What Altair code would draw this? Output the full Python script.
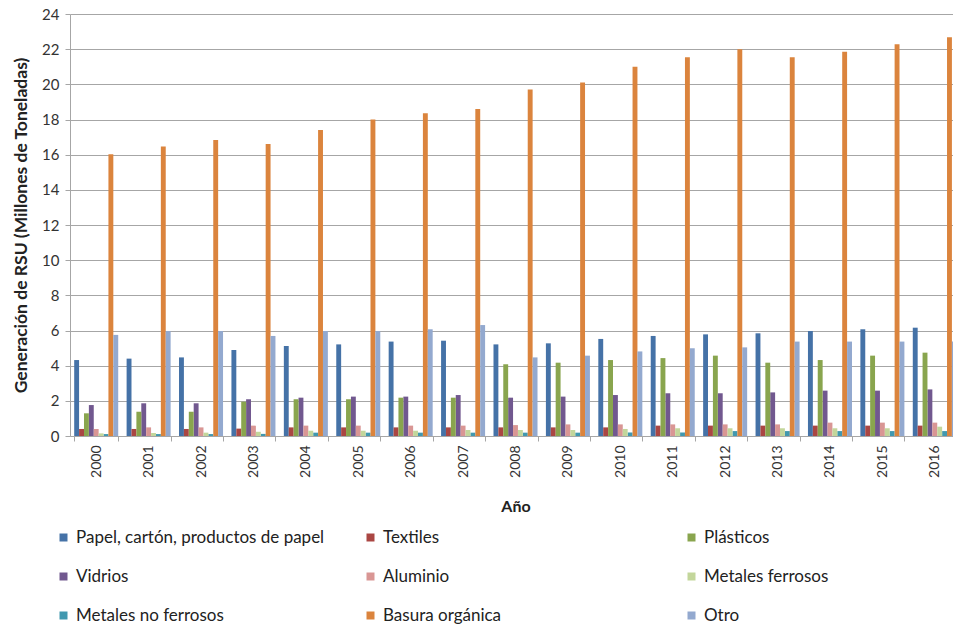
import altair as alt
import pandas as pd

# Años y categorías de residuos sólidos urbanos (RSU)
anios = [str(a) for a in range(2000, 2017)]
categorias = [
    "Papel, cartón, productos de papel", "Textiles", "Plásticos",
    "Vidrios", "Aluminio", "Metales ferrosos",
    "Metales no ferrosos", "Basura orgánica", "Otro",
]
colores = ["#4572A7", "#AA4643", "#89A54E", "#71588F", "#D99694",
           "#C3D69B", "#4198AF", "#DB843D", "#93A9CF"]

# Generación anual por categoría (millones de toneladas)
papel = [4.32, 4.40, 4.47, 4.89, 5.12, 5.21, 5.37, 5.42, 5.21, 5.27, 5.52, 5.69, 5.78, 5.84, 5.97, 6.07, 6.16]
textiles = [0.40, 0.40, 0.40, 0.42, 0.49, 0.49, 0.49, 0.49, 0.49, 0.49, 0.49, 0.59, 0.59, 0.59, 0.59, 0.59, 0.59]
plasticos = [1.29, 1.38, 1.38, 1.95, 2.09, 2.09, 2.18, 2.18, 4.08, 4.17, 4.32, 4.43, 4.57, 4.17, 4.32, 4.57, 4.74]
vidrios = [1.76, 1.86, 1.86, 2.09, 2.18, 2.24, 2.24, 2.33, 2.18, 2.24, 2.33, 2.43, 2.43, 2.48, 2.58, 2.58, 2.65]
aluminio = [0.40, 0.49, 0.49, 0.59, 0.59, 0.59, 0.59, 0.59, 0.62, 0.66, 0.66, 0.66, 0.66, 0.66, 0.76, 0.76, 0.76]
ferrosos = [0.15, 0.17, 0.19, 0.24, 0.30, 0.30, 0.30, 0.34, 0.34, 0.34, 0.40, 0.44, 0.44, 0.44, 0.44, 0.44, 0.53]
no_ferrosos = [0.11, 0.11, 0.11, 0.12, 0.19, 0.19, 0.19, 0.19, 0.19, 0.19, 0.20, 0.20, 0.28, 0.28, 0.28, 0.28, 0.28]
organica = [16.02, 16.46, 16.84, 16.61, 17.40, 18.00, 18.35, 18.60, 19.70, 20.10, 21.00, 21.54, 22.00, 21.54, 21.86, 22.28, 22.68]
otro = [5.75, 5.97, 5.97, 5.69, 5.97, 5.97, 6.07, 6.31, 4.47, 4.57, 4.81, 4.99, 5.04, 5.37, 5.37, 5.37, 5.37]

series = [papel, textiles, plasticos, vidrios, aluminio, ferrosos, no_ferrosos, organica, otro]
filas = []
for cat, valores in zip(categorias, series):
    for anio, v in zip(anios, valores):
        filas.append({"anio": anio, "cat": cat, "valor": v})
df = pd.DataFrame(filas)

FUENTE = "Lato"
GRIS = "#A6A6A6"

base = alt.Chart(df).mark_bar().encode(
    x=alt.X(
        "anio:N",
        sort=anios,
        scale=alt.Scale(domain=anios, range=[0, 891], paddingInner=0.16, paddingOuter=0.08),
        axis=alt.Axis(
            title="Año", labelAngle=-90, tickBand="extent", ticks=True, tickSize=5,
            tickColor=GRIS, domainColor=GRIS, labelFont=FUENTE, labelFontSize=14,
            labelColor="#333333", labelPadding=4, titleFont=FUENTE, titleFontSize=16,
            titleFontWeight="bold", titleColor="#222222", titlePadding=21, grid=False,
        ),
    ),
    xOffset=alt.XOffset("cat:N", sort=categorias,
                        scale=alt.Scale(domain=categorias, paddingInner=0, paddingOuter=0)),
    y=alt.Y(
        "valor:Q",
        scale=alt.Scale(domain=[0, 24], nice=False),
        axis=alt.Axis(
            title="Generación de RSU (Millones de Toneladas)",
            values=list(range(0, 25, 2)), grid=True, gridColor=GRIS, domainColor=GRIS,
            tickColor=GRIS, tickSize=5, labelFont=FUENTE, labelFontSize=15,
            labelColor="#333333", labelPadding=6, titleFont=FUENTE, titleFontSize=17.5,
            titleFontWeight="bold", titleColor="#222222", titlePadding=11,
        ),
    ),
)

# Tres columnas de leyenda, una por capa
columnas = [[0, 3, 6], [1, 4, 7], [2, 5, 8]]
posiciones_x = [-15, 292, 613]
capas = []
for idx, lx in zip(columnas, posiciones_x):
    grupo = [categorias[i] for i in idx]
    capas.append(
        base.transform_filter(alt.FieldOneOfPredicate(field="cat", oneOf=grupo)).encode(
            color=alt.Color(
                "cat:N",
                scale=alt.Scale(domain=grupo, range=[colores[i] for i in idx]),
                legend=alt.Legend(
                    title=None, orient="none", legendX=lx, legendY=515,
                    direction="vertical", symbolType="square", symbolSize=64,
                    symbolStrokeWidth=0, labelFont=FUENTE, labelFontSize=17,
                    labelColor="#222222", labelOffset=4, labelLimit=0, rowPadding=21,
                ),
            )
        )
    )

chart = alt.layer(*capas).resolve_scale(color="independent").properties(
    width=883,
    height=422,
    autosize=alt.AutoSizeParams(type="none"),
    padding={"left": 70, "top": 14, "right": 0, "bottom": 192},
    background="white",
).configure_view(stroke=None)

chart.save("out.html", embed_options={"renderer": "svg", "actions": False})
